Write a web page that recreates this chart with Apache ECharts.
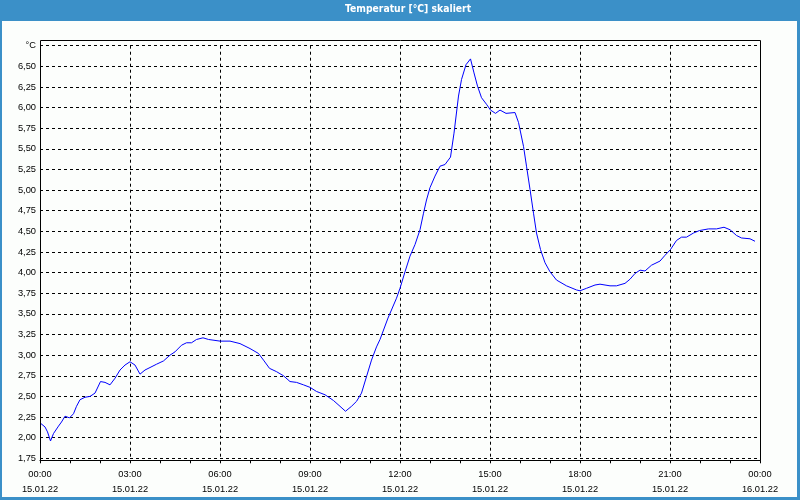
<!DOCTYPE html>
<html>
<head>
<meta charset="utf-8">
<script src="https://cdn.jsdelivr.net/npm/echarts@6/dist/echarts.min.js"></script>
<style>
html,body{margin:0;padding:0;background:#3b90c8;}
#c{width:800px;height:500px;}
</style>
</head>
<body>
<div id="c"></div>
<script>
// time in minutes since 15.01.22 00:00
const minutes = [0,10,15,21,27,37,43,50,59,67,73,80,90,100,110,121,130,140,150,160,170,180,190,200,210,220,233,247,260,270,283,293,303,313,326,337,360,380,400,420,437,447,459,473,487,500,513,527,540,553,570,587,600,611,623,633,643,653,663,673,680,696,713,720,730,740,750,760,767,773,780,790,800,810,821,828,837,843,852,861,868,875,883,893,901,911,920,932,950,957,967,973,980,987,993,1001,1010,1020,1033,1053,1073,1080,1093,1110,1120,1140,1153,1170,1180,1190,1200,1210,1223,1240,1250,1261,1273,1283,1293,1307,1319,1337,1353,1368,1380,1393,1403,1420,1430];
const temperature = [2.18,2.13,2.07,1.96,2.05,2.14,2.19,2.26,2.24,2.29,2.38,2.46,2.49,2.50,2.54,2.68,2.67,2.64,2.72,2.82,2.88,2.92,2.88,2.77,2.82,2.85,2.89,2.93,3.00,3.04,3.12,3.15,3.15,3.19,3.21,3.19,3.17,3.17,3.14,3.08,3.02,2.94,2.84,2.80,2.75,2.68,2.67,2.64,2.61,2.56,2.52,2.45,2.38,2.32,2.38,2.44,2.54,2.74,2.94,3.10,3.19,3.45,3.69,3.81,4.01,4.20,4.34,4.52,4.72,4.88,5.03,5.17,5.29,5.31,5.40,5.69,6.14,6.34,6.52,6.59,6.42,6.26,6.12,6.04,5.97,5.93,5.97,5.93,5.94,5.82,5.53,5.29,5.01,4.72,4.48,4.28,4.12,4.01,3.91,3.84,3.79,3.78,3.81,3.85,3.86,3.84,3.84,3.87,3.92,3.99,4.03,4.02,4.09,4.14,4.21,4.28,4.39,4.43,4.43,4.48,4.51,4.53,4.53,4.55,4.52,4.45,4.42,4.41,4.38];
const xTickTimes = ['00:00','03:00','06:00','09:00','12:00','15:00','18:00','21:00','00:00'];
const xTickDates = ['15.01.22','15.01.22','15.01.22','15.01.22','15.01.22','15.01.22','15.01.22','15.01.22','16.01.22'];
const yUnit = '°C';
const titleText = 'Temperatur [°C] skaliert';

const chart = echarts.init(document.getElementById('c'));
const font = "'Liberation Sans', Arial, sans-serif";
chart.setOption({
  animation: false,
  backgroundColor: '#3b90c8',
  textStyle: {fontFamily: font},
  graphic: [
    {type: 'rect', z: -10, silent: true, shape: {x: 2, y: 21, width: 795, height: 476}, style: {fill: '#fcfefc'}},
    {type: 'rect', z: 100, silent: true, shape: {x: 40.5, y: 40.5, width: 720, height: 420}, style: {fill: 'none', stroke: '#000', lineWidth: 1}},
    {type: 'text', z: 100, silent: true, left: 345, top: 4, style: {text: titleText, fill: '#ffffff', font: "bold 10.3px 'Liberation Sans Narrow', 'DejaVu Sans Condensed', sans-serif"}}
  ],
  grid: {left: 40, right: 40, top: 45.7, bottom: 41.7},
  xAxis: {
    type: 'value', min: 0, max: 1440, interval: 180, offset: 2,
    axisLine: {show: true, lineStyle: {color: '#000'}},
    axisTick: {show: true, length: 3, lineStyle: {color: '#000'}},
    minorTick: {show: true, splitNumber: 3, length: 3, lineStyle: {color: '#000'}},
    splitLine: {show: true, lineStyle: {color: '#000', type: [3, 3], width: 1}},
    axisLabel: {
      margin: 7, color: '#000', fontSize: 9.3, fontFamily: font, lineHeight: 15,
      formatter: function (v) { const i = Math.round(v / 180); return xTickTimes[i] + '\n' + xTickDates[i]; }
    }
  },
  yAxis: {
    type: 'value', min: 1.75, max: 6.75, interval: 0.25,
    axisLine: {show: false},
    axisTick: {show: false},
    splitLine: {show: true, lineStyle: {color: '#000', type: [3, 3], width: 1}},
    axisLabel: {
      margin: 4, color: '#000', fontSize: 9.3, fontFamily: font,
      formatter: function (v) { return v >= 6.749 ? yUnit : v.toFixed(2).replace('.', ','); }
    }
  },
  series: [{
    type: 'line',
    data: minutes.map((m, i) => [m, temperature[i]]),
    showSymbol: false,
    lineStyle: {color: '#0000ff', width: 1},
    itemStyle: {color: '#0000ff'}
  }]
});
</script>
</body>
</html>
